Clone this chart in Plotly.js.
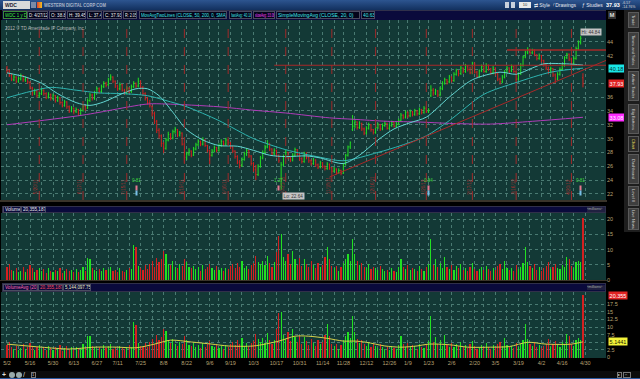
<!DOCTYPE html>
<html><head><meta charset="utf-8">
<script src="https://cdn.plot.ly/plotly-3.0.1.min.js"></script>
<style>
html,body{margin:0;padding:0;background:#000;width:640px;height:379px;overflow:hidden;font-family:"Liberation Sans",Arial,sans-serif;}
#chart{position:absolute;left:0;top:0;width:640px;height:379px;}
.ov{position:absolute;white-space:nowrap;overflow:hidden;box-sizing:border-box;font-size:5px;line-height:7px;}
.ov span{display:inline-block;transform-origin:0 50%;}
.tab{position:absolute;left:628px;width:11px;box-sizing:border-box;background:#3e3e3e;border:1px solid #5a5a5a;color:#d0d0d0;font-size:4.1px;writing-mode:vertical-rl;text-align:center;line-height:9px;overflow:hidden;white-space:nowrap;}
</style></head><body>
<div id="chart"></div>
<script>
// ---------- DATA ----------
const tickIdx=[0,10,20,29,39,48,58,68,78,88,97,107,117,127,137,146,156,166,174,183,193,203,212,222,232,241,251];
const tickLbl=['5/2','5/16','5/30','6/13','6/27','7/11','7/25','8/8','8/22','9/6','9/19','10/3','10/17','10/31','11/14','11/28','12/12','12/26','1/9','1/23','2/6','2/20','3/5','3/19','4/2','4/16','4/30'];
const weekIdx=[5,15,24,34,44,53,63,73,83,92,102,112,122,132,142,151,161,170,179,188,198,207,217,227,236,246];
const expIdx=[14,33,52,77,96,121,141,160,182,202,221,245];
const expLbl=['5/20/11','6/17/11','7/15/11','8/19/11','9/16/11','10/21/11','11/18/11','12/16/11','1/20/12','2/17/12','3/16/12','4/20/12'];
const earnIdx=[56,118,183,249];
const earnLbl=['0.81','1.27','0.84','0.81'];

const open=[
40.2,39.8,39.1,38.5,38.9,38.3,38.6,39.1,38.5,38.8,
38.1,37.3,36.6,36.9,36.2,36.5,37.0,36.5,36.0,36.4,
35.8,36.2,35.5,35.9,35.2,34.8,35.3,34.6,34.0,34.4,
33.9,34.2,33.6,34.1,34.7,34.4,35.5,36.3,35.8,36.6,
37.2,36.8,37.5,38.0,37.8,38.6,38.9,38.3,37.6,37.2,
37.8,37.0,36.6,37.3,36.8,37.5,38.0,37.6,38.3,37.4,
36.5,35.8,35.2,34.6,33.6,32.5,31.2,30.4,29.3,28.6,
29.8,30.6,30.1,31.0,31.3,30.5,30.8,29.2,27.3,27.8,
28.2,27.6,28.5,29.1,29.6,29.2,29.8,29.0,28.3,27.6,
28.2,28.7,28.3,29.0,29.6,29.2,29.8,29.4,28.8,28.2,
27.4,26.6,26.1,27.0,27.8,28.3,27.5,26.4,25.5,24.8,
26.0,27.2,28.0,28.8,29.3,28.5,27.8,28.3,27.6,24.2,
26.2,27.4,28.0,27.3,26.9,27.6,28.4,27.8,27.1,26.7,
27.9,27.3,26.8,26.4,26.9,26.2,25.9,26.5,26.0,25.7,
26.3,25.8,25.3,25.6,25.1,25.4,25.0,26.3,27.6,28.8,
31.3,31.8,32.4,31.6,32.2,31.4,30.8,31.5,32.0,31.3,
30.9,31.6,32.0,31.4,31.9,32.2,31.5,31.9,32.3,31.8,
32.1,32.6,33.4,33.1,33.8,33.3,33.9,33.5,34.0,33.6,
34.2,33.8,34.4,33.9,36.2,37.0,36.6,36.9,36.3,37.2,
38.0,38.5,38.2,38.9,38.4,39.3,39.8,39.4,40.2,39.7,
40.5,40.0,39.5,40.9,39.6,39.0,39.8,40.4,39.7,40.6,
40.1,39.5,40.2,39.4,38.6,38.2,38.9,39.6,40.2,39.8,
40.4,39.7,38.6,39.4,40.6,41.8,42.5,42.9,42.4,42.8,
42.1,41.6,42.0,41.3,40.7,40.2,39.6,40.1,39.2,38.6,
39.3,40.0,40.6,41.7,42.2,41.5,40.8,41.6,43.0,43.9,
38.8];
const high=[
40.5,40.0,39.4,39.2,39.0,38.9,39.4,39.2,39.0,38.9,
38.3,37.5,37.2,37.0,36.8,37.3,37.1,36.7,36.7,36.5,
36.5,36.3,36.2,36.0,35.4,35.6,35.4,34.8,34.7,34.5,
34.5,34.3,34.4,35.0,34.9,35.8,36.6,36.5,36.9,37.5,
37.4,37.8,38.3,38.2,38.8,39.3,39.0,38.4,37.8,38.1,
37.9,37.2,37.6,37.4,37.8,38.3,38.1,38.8,38.4,37.6,
36.7,36.0,35.6,34.8,33.9,32.7,31.5,30.6,29.5,30.1,
31.0,30.8,31.3,31.7,31.4,31.1,30.9,29.4,28.1,28.6,
28.3,28.8,29.4,29.9,29.7,30.2,29.9,29.1,28.4,28.5,
29.0,28.8,29.3,29.9,29.7,30.1,29.9,29.5,28.9,28.3,
27.6,26.9,27.3,28.1,28.6,28.4,27.6,26.6,26.2,26.3,
27.5,28.3,29.1,29.8,29.4,28.6,28.6,28.4,27.7,26.6,
27.7,28.4,28.1,27.5,27.9,28.7,28.5,27.9,27.3,28.1,
28.0,27.4,27.0,27.2,27.0,26.4,26.8,26.6,26.1,26.6,
26.4,25.9,25.9,25.7,25.7,25.5,26.5,27.8,29.0,29.6,
33.4,32.8,32.5,32.5,32.3,31.6,31.8,32.3,32.1,31.4,
31.9,32.3,32.1,32.2,32.5,32.3,32.1,32.6,32.4,32.4,
32.9,33.7,33.5,34.1,33.9,34.2,34.0,34.3,34.1,34.5,
34.3,34.7,34.5,34.4,37.7,37.3,37.2,37.0,37.5,38.3,
38.8,38.6,39.2,39.0,39.6,40.1,39.9,40.5,40.3,40.8,
40.6,40.4,41.1,41.0,39.8,40.0,40.7,40.5,40.9,40.7,
40.2,40.5,40.3,39.5,38.8,39.2,39.9,40.5,40.3,40.7,
40.5,39.8,39.6,40.9,42.0,42.7,43.2,43.0,43.0,42.9,
42.2,42.3,42.1,41.4,40.9,40.4,40.4,40.2,39.4,39.6,
40.3,40.9,41.9,42.4,42.3,41.7,41.9,43.3,44.2,44.84,
39.45];
const low=[
39.4,38.9,38.3,38.3,38.0,38.1,38.4,38.2,38.2,37.9,
37.1,36.2,36.3,35.9,35.9,36.3,36.2,35.7,35.8,35.5,
35.6,35.2,35.3,34.9,34.5,34.6,34.3,33.7,33.8,33.5,
33.7,33.3,33.4,33.9,34.0,34.3,35.3,35.5,35.6,36.4,
36.5,36.6,37.3,37.4,37.6,38.4,38.0,37.3,36.9,37.0,
36.8,36.3,36.4,36.5,36.6,37.3,37.3,37.4,37.1,36.2,
35.5,34.9,34.5,33.2,32.1,30.8,30.0,28.8,27.9,28.4,
29.6,29.8,29.9,30.7,30.2,30.3,29.0,26.5,26.9,27.5,
27.3,27.5,28.3,28.9,28.9,29.0,28.8,28.0,26.3,27.4,
28.0,28.0,28.1,28.8,28.9,29.0,29.1,28.5,27.9,27.1,
26.3,25.7,25.9,26.8,27.5,27.2,26.1,25.2,24.0,24.6,
25.8,27.0,27.8,28.6,28.2,27.5,27.6,27.3,26.5,22.6,
26.0,27.2,27.0,26.6,26.7,27.4,27.5,26.8,26.4,26.5,
27.0,26.5,26.1,26.2,25.9,25.6,25.7,25.7,25.4,25.5,
25.5,25.0,25.1,24.8,24.9,24.7,24.9,26.1,27.4,28.5,
31.1,31.5,31.3,31.4,31.1,30.5,30.6,31.3,31.0,30.6,
30.7,31.4,31.1,31.2,31.7,31.3,31.3,31.7,31.6,31.6,
31.9,32.4,32.8,32.9,33.0,33.1,33.2,33.3,33.3,33.4,
33.5,33.6,33.7,33.7,36.0,36.2,36.3,36.0,36.1,37.0,
37.8,37.8,38.0,38.1,38.2,39.1,39.0,39.2,39.4,39.5,
39.7,39.3,39.3,39.4,38.8,38.8,39.6,39.5,39.5,39.8,
39.2,39.3,39.1,38.3,37.8,38.0,38.7,39.4,39.5,39.6,
39.5,38.0,38.4,39.2,40.4,41.6,42.2,42.1,42.2,41.9,
41.3,41.4,41.0,40.4,39.9,39.3,39.4,38.9,38.0,38.4,
39.1,39.8,40.4,41.5,41.2,40.5,40.6,41.4,42.8,43.6,
37.4];
const close=[
39.8,39.2,38.6,38.9,38.3,38.7,39.1,38.5,38.8,38.2,
37.4,36.6,36.9,36.2,36.5,37.0,36.5,36.0,36.4,35.8,
36.2,35.5,35.9,35.2,34.8,35.3,34.6,34.0,34.4,33.9,
34.2,33.6,34.1,34.7,34.3,35.5,36.3,35.8,36.6,37.2,
36.8,37.5,38.0,37.7,38.6,38.9,38.3,37.6,37.2,37.8,
37.0,36.6,37.3,36.8,37.5,38.0,37.6,38.3,37.4,36.5,
35.8,35.2,34.8,33.6,32.5,31.2,30.4,29.3,28.6,29.8,
30.6,30.1,31.0,31.3,30.5,30.8,29.2,27.3,27.8,28.2,
27.6,28.5,29.1,29.6,29.2,29.8,29.0,28.3,27.6,28.2,
28.7,28.3,29.0,29.6,29.2,29.8,29.4,28.8,28.2,27.4,
26.6,26.1,27.0,27.8,28.3,27.5,26.4,25.5,24.8,26.0,
27.2,28.0,28.8,29.3,28.5,27.8,28.3,27.6,26.8,26.2,
27.4,28.0,27.3,26.9,27.6,28.4,27.8,27.1,26.7,27.9,
27.3,26.8,26.4,26.9,26.2,25.9,26.5,26.0,25.7,26.3,
25.8,25.3,25.6,25.1,25.4,25.0,26.3,27.6,28.8,29.4,
31.8,32.4,31.6,32.2,31.4,30.8,31.5,32.0,31.3,30.9,
31.6,32.0,31.4,31.9,32.2,31.5,31.9,32.3,31.8,32.1,
32.6,33.4,33.1,33.8,33.3,33.9,33.5,34.0,33.6,34.2,
33.8,34.4,33.9,34.1,37.0,36.6,36.9,36.3,37.2,38.0,
38.5,38.2,38.9,38.4,39.3,39.8,39.4,40.2,39.7,40.5,
40.0,39.5,40.9,39.6,39.0,39.8,40.4,39.7,40.6,40.1,
39.5,40.2,39.4,38.6,38.2,38.9,39.6,40.2,39.8,40.4,
39.7,38.6,39.4,40.6,41.8,42.5,42.9,42.4,42.8,42.1,
41.6,42.0,41.3,40.7,40.2,39.6,40.1,39.2,38.6,39.3,
40.0,40.6,41.7,42.2,41.5,40.8,41.6,43.0,43.9,44.5,
37.93];
const volume=[
4.2,5.1,3.4,2.8,3.9,2.6,3.1,4.4,2.7,3.6,
4.8,3.9,2.5,3.3,4.1,2.9,3.5,2.4,3.8,3.0,
2.6,3.4,2.9,4.0,2.3,3.1,3.7,2.8,3.3,2.5,
3.6,2.7,3.2,4.3,3.0,7.2,7.0,3.9,3.4,2.8,
3.5,2.9,4.1,3.2,3.7,4.4,2.9,3.3,2.6,3.8,
3.1,2.7,3.4,4.0,3.6,11.5,10.8,4.7,3.9,3.3,
4.8,3.6,5.2,6.1,4.4,7.3,5.9,6.8,9.5,8.6,
5.4,4.9,6.2,4.3,3.8,5.1,4.6,7.0,5.8,4.2,
3.9,4.7,3.5,4.2,3.1,4.8,3.6,4.4,5.3,3.9,
3.4,4.6,3.2,3.8,2.9,4.1,3.5,4.5,5.2,4.0,
5.6,4.3,6.4,3.9,4.7,3.6,4.8,5.5,7.8,6.0,
5.2,6.4,4.8,8.0,5.6,4.3,5.9,9.2,14.5,15.0,
7.4,6.2,8.4,5.3,9.5,6.8,5.0,7.2,4.6,6.9,
5.4,4.2,6.1,4.8,3.9,5.6,4.3,5.0,7.5,11.0,
7.0,4.6,3.8,4.5,2.9,4.2,5.6,7.0,8.5,6.4,
13.5,8.5,6.2,4.8,5.7,4.3,3.9,5.1,3.6,4.4,
3.8,3.2,4.6,3.5,2.8,3.3,2.6,3.9,3.1,2.7,
4.2,7.0,4.4,3.6,4.9,3.3,4.1,3.7,2.9,4.6,
3.5,3.0,4.2,5.3,13.5,5.0,6.8,4.4,5.6,3.9,
7.4,4.2,3.6,4.8,3.3,4.5,3.8,5.1,3.4,4.0,
3.1,4.3,5.5,3.7,2.9,3.6,4.2,3.3,4.7,3.5,
2.8,4.0,3.4,4.6,5.2,3.7,6.3,4.1,3.3,3.9,
3.0,4.8,3.6,4.3,5.6,11.0,6.0,4.5,3.8,5.1,
3.4,4.2,3.1,3.9,4.6,6.0,3.5,4.4,5.3,4.0,
3.6,5.0,4.3,7.6,7.0,4.5,3.8,5.8,6.4,5.9,
20.355];
const ma20Idx=[0,8,15,22,30,36,42,50,56,61,66,72,78,85,92,100,107,114,121,130,136,146,153,161,168,175,182,192,202,214,221,228,233,243,250];
const ma20Val=[39.5,38.9,38.0,36.5,35.2,34.8,35.3,36.5,37.2,37.2,36.2,33.8,31.3,29.8,29.0,28.9,28.3,27.6,27.4,27.5,27.2,26.4,27.6,29.8,31.4,32.3,33.1,36.0,38.5,39.6,39.3,40.2,40.8,40.8,40.63];
const ma50Idx=[0,10,19,30,40,50,61,69,78,92,107,121,136,146,161,171,182,192,207,221,236,250];
const ma50Val=[35.9,36.8,37.4,37.0,36.6,36.5,36.2,35.5,34.6,32.6,30.0,28.4,27.3,26.8,28.0,29.0,30.4,32.6,36.4,38.1,39.6,40.18];
const ma200Idx=[0,33,61,69,92,107,121,140,150,165,179,192,210,228,250];
const ma200Val=[32.0,33.4,35.0,35.0,34.6,34.1,33.7,33.0,32.8,32.5,32.4,32.2,32.1,32.5,33.08];
const vaIdx=[0,15,27,38,48,56,64,71,80,89,96,107,118,125,131,139,146,151,156,164,171,178,183,192,200,210,218,226,234,245,250];
const vaVal=[4.4,3.4,2.8,3.4,3.4,3.2,4.4,5.7,5.1,4.4,3.8,3.8,5.4,7.0,7.0,6.3,5.4,5.4,5.0,3.8,3.4,3.8,4.4,4.2,3.4,3.4,3.6,5.0,4.4,4.4,5.144];
const resLine1={x:[116,260],y:[40.6,40.6]};
const resLine2={x:[217,260],y:[42.8,42.8]};
const trendLine={x:[140,260],y:[24.45,41.3]};
const priceTicks=[22,24,26,28,30,32,34,36,38,40,42,44];
const priceTickText=['22','24','26','28','30','32','34','36','','','42','44'];
const volTicks=[0,5,10,15,20];
const vaTicks=[0,2.5,5,7.5,10,12.5,15,17.5];
const vaTickText=['0','2.5','','7.5','10','12.5','15','17.5'];

// ---------- CHART ----------
const idx=close.map((_,i)=>i);
const UP='#22e022', DN='#d42020';
const volCol=close.map((c,i)=> c>=open[i]?UP:DN);
const GRID='#4a7a72', BG='#133936', TXT='#b8a272';
const F='Liberation Sans, Arial, sans-serif';

const traces=[
 {type:'ohlc',x:idx,open:open,high:high,low:low,close:close,xaxis:'x',yaxis:'y',
  increasing:{line:{color:UP,width:1}},decreasing:{line:{color:DN,width:1}},tickwidth:0.35,hoverinfo:'skip'},
 {type:'scatter',mode:'lines',x:ma200Idx,y:ma200Val,yaxis:'y',line:{color:'#b03cb8',width:1,shape:'spline',smoothing:0.8}},
 {type:'scatter',mode:'lines',x:ma50Idx,y:ma50Val,yaxis:'y',line:{color:'#2fb4b0',width:1,shape:'spline',smoothing:0.8}},
 {type:'scatter',mode:'lines',x:ma20Idx,y:ma20Val,yaxis:'y',line:{color:'#62d6d2',width:1,shape:'spline',smoothing:0.8}},
 {type:'scatter',mode:'lines',x:resLine1.x,y:resLine1.y,yaxis:'y',line:{color:'#a82828',width:1}},
 {type:'scatter',mode:'lines',x:resLine2.x,y:resLine2.y,yaxis:'y',line:{color:'#a82828',width:1.5}},
 {type:'scatter',mode:'lines',x:trendLine.x,y:trendLine.y,yaxis:'y',line:{color:'#a82828',width:1}},
 {type:'bar',x:idx,y:volume,yaxis:'y2',width:0.5,marker:{color:volCol,line:{width:0}}},
 {type:'bar',x:idx,y:volume,yaxis:'y3',width:0.5,marker:{color:volCol,line:{width:0}}},
 {type:'scatter',mode:'lines',x:vaIdx,y:vaVal,yaxis:'y3',line:{color:'#d6d24a',width:1,shape:'spline',smoothing:0.8}}
];

const yBase={side:'right',showgrid:true,gridcolor:GRID,griddash:'dot',gridwidth:1,zeroline:false,showline:false,ticks:'',
  tickfont:{family:F,size:5.5,color:TXT},fixedrange:true,anchor:'x'};

const shapes=expIdx.map(v=>({type:'line',xref:'x',yref:'y domain',x0:v,x1:v,y0:0,y1:1,line:{color:'#a02a2a',width:1,dash:'dash'}}));

const ann=[];
function tagBox(text,y,yref,bg,fg){ann.push({xref:'paper',x:1,xanchor:'left',xshift:2,yref:yref,y:y,text:text,showarrow:false,
  bgcolor:bg,borderpad:0.6,font:{family:F,size:5.5,color:fg}});}
tagBox('40.18',40.18,'y','#19e6e6','#063030');
tagBox('37.93',37.93,'y','#e02424','#ffffff');
tagBox('33.08',33.08,'y','#ff2cff','#ffffff');
tagBox('20.355',20.355,'y3','#e02424','#ffffff');
tagBox('5.1441',5.1441,'y3','#f2f23a','#202000');
expIdx.forEach((v,i)=>ann.push({xref:'x',yref:'y domain',x:v,y:0.02,yanchor:'bottom',xanchor:'center',xshift:-3,text:expLbl[i],textangle:-90,showarrow:false,font:{family:F,size:4.6,color:'#b03030'}}));
earnIdx.forEach((v,i)=>{
  ann.push({xref:'x',yref:'y domain',x:v,y:0.085,text:earnLbl[i],showarrow:false,font:{family:F,size:4.5,color:'#3ed83e'}});
  ann.push({xref:'x',yref:'y domain',x:v,y:0.05,text:'&nbsp;',showarrow:false,bgcolor:'#e87890',borderpad:0,font:{size:3}});
});
[56,183,249].forEach(v=>ann.push({xref:'x',yref:'y domain',x:v,y:0.02,text:'&nbsp;',showarrow:false,bgcolor:'#78c0e8',borderpad:0,font:{size:3}}));
ann.push({xref:'x',yref:'y',x:119.5,y:low[119],yshift:-6,xanchor:'left',text:'Lo: 22.64',showarrow:false,bgcolor:'#c4c4c4',borderpad:0.6,font:{family:F,size:4.6,color:'#333'}});
ann.push({xref:'x',yref:'y',x:248.5,y:high[249],yshift:4,xanchor:'left',text:'Hi: 44.84',showarrow:false,bgcolor:'#c4c4c4',borderpad:0.6,font:{family:F,size:4.6,color:'#333'}});
ann.push({xref:'paper',yref:'paper',x:0.003,y:0.99,xanchor:'left',yanchor:'top',text:'2012 © TD Ameritrade IP Company, Inc.',showarrow:false,font:{family:F,size:4.5,color:'#b8b8b8'}});

const layout={
 width:640,height:379,margin:{l:1,r:34,t:20,b:21},paper_bgcolor:'#000',plot_bgcolor:BG,showlegend:false,bargap:0,
 font:{family:F},
 xaxis:{range:[-2.6,260],tickmode:'array',tickvals:tickIdx,ticktext:tickLbl,tickfont:{family:F,size:5.5,color:TXT},
   showgrid:true,gridcolor:GRID,griddash:'dot',gridwidth:1,zeroline:false,showline:false,ticks:'',anchor:'y3',
   rangeslider:{visible:false},fixedrange:true,
   minor:{tickmode:'array',tickvals:weekIdx,showgrid:true,gridcolor:GRID,griddash:'dot',gridwidth:1}},
 yaxis:Object.assign({},yBase,{domain:[0.4675,1],range:[21.13,47.14],tickmode:'array',tickvals:priceTicks,ticktext:priceTickText}),
 yaxis2:Object.assign({},yBase,{domain:[0.2308,0.429],range:[0,22.04],tickmode:'array',tickvals:volTicks}),
 yaxis3:Object.assign({},yBase,{domain:[0,0.1953],range:[-0.15,21.5],tickmode:'array',tickvals:vaTicks,ticktext:vaTickText}),
 shapes:shapes,annotations:ann
};
Plotly.newPlot('chart',traces,layout,{staticPlot:true,displayModeBar:false});

// ---------- WINDOW CHROME ----------
function box(x,y,w,h,t,st){
  const d=document.createElement('div');d.className='ov';
  Object.assign(d.style,{left:x+'px',top:y+'px',width:w+'px',height:h+'px',lineHeight:h+'px'},st||{});
  if(t!==undefined){const s=document.createElement('span');s.textContent=t;d.appendChild(s);}
  document.body.appendChild(d);
  if(t!==undefined){const s=d.firstChild;const avail=w-2;const sw=s.getBoundingClientRect().width;if(sw>avail&&sw>0){s.style.transform='scaleX('+(avail/sw)+')';}}
  return d;
}
// top bar
box(0,0,640,10,undefined,{background:'linear-gradient(#2d5590,#12305e)'});
box(3,1,27,8,'WDC',{background:'#d9d9d9',color:'#223',paddingLeft:'2px',fontWeight:'bold',lineHeight:'8px'});
box(31,2,5,6,undefined,{background:'#7a8aa8'});
box(37,2,5,6,undefined,{background:'linear-gradient(90deg,#e04030,#f0c020)'});
box(44,1,64,8,'WESTERN DIGITAL CORP COM',{color:'#a8b4c8',fontWeight:'bold'});
box(505,2,4,6,undefined,{background:'#c8d0dc'});box(511,2,4,6,undefined,{background:'#c8d0dc'});
box(519,2,12,6,'10',{background:'#e8e8e8',color:'#333',fontSize:'4px',lineHeight:'6px',textAlign:'center'});
box(534,1,18,8,'⇄ Style',{color:'#e4e8f0'});
box(553,1,28,8,'⁄ Drawings',{color:'#e4e8f0'});
box(582,1,24,8,'ƒ Studies',{color:'#e4e8f0'});
box(606,1,16,8,'37.93',{color:'#fff',fontWeight:'bold',fontSize:'5.5px'});
box(622,1,16,4,'-6.57',{color:'#ddd',fontSize:'3.6px',lineHeight:'4px'});
box(622,5,16,4,'-14.76%',{color:'#ddd',fontSize:'3.6px',lineHeight:'4px'});
// study legend row
box(2,10,604,10,undefined,{background:'#0a0a3c',borderTop:'1px solid #30304a'});
const leg=[[3,24,'WDC 1 y D','#3ef03e'],[27,21,'D: 4/27/12','#f0f0f0'],[49,17,'O: 38.8','#f0f0f0'],[67,19,'H: 39.45','#f0f0f0'],
 [87,15,'L: 37.4','#f0f0f0'],[103,19,'C: 37.93','#f0f0f0'],[123,14,'R: 2.05','#f0f0f0'],
 [139,88,'MovAvgTwoLines (CLOSE, 50, 200, 0, SMA)','#3ee6e6'],[229,23,'fastAvg: 40.18','#3ee6e6'],[253,22,'slowAvg: 33.08','#ff44ff'],
 [276,84,'SimpleMovingAvg (CLOSE, 20, 0)','#3ee6e6'],[361,14,'40.63','#3ee6e6']];
leg.forEach(l=>box(l[0],11,l[1],8,l[2],{color:l[3],border:'1px solid '+(l[0]===3?'#3a8a3a':'#4a4a60'),background:'#04041a',paddingLeft:'1px',lineHeight:'6px'}));
box(608,11,8,8,'M',{color:'#ddd',fontWeight:'bold',fontSize:'6px',textAlign:'center',background:'#333'});
// separators + panel headers
box(0,200,607,6,undefined,{background:'#000',borderTop:'2px solid #3a342a'});
box(2,206,604,7,undefined,{background:'#0a0a3c',border:'1px solid #30304a'});
box(3,206,18,7,'Volume',{color:'#e8e8e8',border:'1px solid #4a4a60',lineHeight:'5px',paddingLeft:'1px'});
box(21,206,25,7,'20,355,187',{color:'#e8e8e8',border:'1px solid #4a4a60',lineHeight:'5px',paddingLeft:'1px'});
box(587,207,18,5,'‹millions›',{color:'#aaa',fontSize:'3.8px',lineHeight:'5px',background:'#202040'});
box(0,280,607,3,undefined,{background:'#000',borderTop:'1px solid #3a342a'});
box(2,283,604,9,undefined,{background:'#0a0a3c',border:'1px solid #30304a'});
box(3,284,35,7,'VolumeAvg (20)',{color:'#ff6ab0',border:'1px solid #4a4a60',lineHeight:'5px',paddingLeft:'1px'});
box(38,284,25,7,'20,355,187',{color:'#ff5060',border:'1px solid #4a4a60',lineHeight:'5px',paddingLeft:'1px'});
box(63,284,28,7,'5,144,097.75',{color:'#f0f0c0',border:'1px solid #4a4a60',lineHeight:'5px',paddingLeft:'1px'});
box(587,285,18,5,'‹millions›',{color:'#aaa',fontSize:'3.8px',lineHeight:'5px',background:'#202040'});
// sidebar tabs
box(624,10,16,222,undefined,{background:'#1e1e1e'});
[[12,16,'Trade'],[32,37,'Times and Sales'],[71,30,'Active Trader'],[104,30,'Big Buttons'],[136,16,'Chart'],[154,30,'Dashboard'],[186,20,'Level II'],[208,22,'Live News']].forEach(t=>{
  const d=document.createElement('div');d.className='tab';d.style.top=t[0]+'px';d.style.height=t[1]+'px';d.textContent=t[2];
  if(t[2]==='Chart'){d.style.color='#f0e060';d.style.background='#2a2a2a';}
  document.body.appendChild(d);});
// bottom toolbar
box(0,371,640,7,undefined,{background:'#0b0b0b'});
box(0,378,640,1,undefined,{background:'#2a5aa0'});
box(2,372,6,6,'+',{color:'#ddd',fontSize:'7px',lineHeight:'6px',fontWeight:'bold'});
box(9,372,6,6,undefined,{background:'#9aa',borderRadius:'3px'});
box(16,372,6,6,undefined,{background:'#9aa',borderRadius:'3px'});
box(23,372,6,6,'/',{color:'#ddd',fontSize:'7px',lineHeight:'6px'});
box(31,372,5,6,'1',{color:'#ddd',border:'1px solid #777',fontSize:'4px',lineHeight:'4px'});
box(617,372,5,6,'▸',{color:'#ddd',border:'1px solid #777',fontSize:'4px',lineHeight:'4px'});
box(623,372,8,6,'⇔',{color:'#ddd',border:'1px solid #777',fontSize:'4px',lineHeight:'4px'});
</script>
</body></html>
